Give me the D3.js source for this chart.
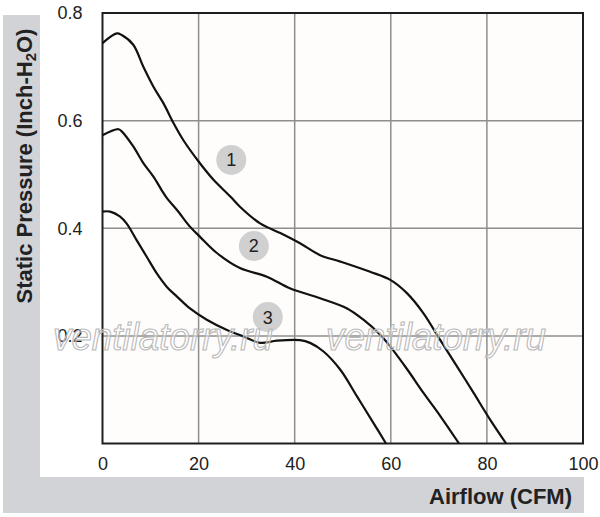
<!DOCTYPE html>
<html>
<head>
<meta charset="utf-8">
<script src="https://cdn.jsdelivr.net/npm/d3@7"></script>
<style>
  body { margin: 0; background: #ffffff; }
  svg { display: block; font-family: Arial, "Liberation Sans", sans-serif; }
</style>
</head>
<body>
<svg id="chart" width="600" height="517"></svg>
<script>
// airflow (CFM) / static pressure (inch H2O)
var curve1_x = [0, 3, 4, 6.4, 8.5, 10.6, 12.7, 14.8, 16.8, 20, 23.1, 26.6, 28.6, 32.8, 37, 41.1, 45.3, 49.5, 55.7, 59.9, 63.4, 66.8, 70.3, 73.8, 77.3, 80.7, 84];
var curve1_y = [0.744, 0.762, 0.759, 0.741, 0.700, 0.663, 0.632, 0.595, 0.564, 0.524, 0.490, 0.459, 0.440, 0.409, 0.391, 0.372, 0.350, 0.338, 0.319, 0.304, 0.279, 0.242, 0.192, 0.143, 0.093, 0.044, 0];

var curve2_x = [0, 3.3, 4, 6.4, 8.5, 10.6, 12.3, 13.4, 15.5, 18.2, 20.3, 23.8, 28.6, 34.2, 39.1, 45.3, 50.9, 54.3, 57.8, 59.9, 63.4, 66.8, 70.3, 74.2];
var curve2_y = [0.573, 0.584, 0.580, 0.552, 0.521, 0.496, 0.471, 0.456, 0.434, 0.403, 0.384, 0.354, 0.326, 0.310, 0.288, 0.270, 0.251, 0.230, 0.202, 0.180, 0.138, 0.094, 0.051, 0];

var curve3_x = [0, 1.6, 3.6, 5, 7.1, 9.2, 11.3, 13.4, 15.5, 18.2, 21.7, 25.9, 29.3, 32.8, 36.3, 41.1, 43.2, 46, 49.5, 53, 56.4, 59];
var curve3_y = [0.431, 0.431, 0.422, 0.409, 0.378, 0.347, 0.316, 0.291, 0.273, 0.251, 0.230, 0.211, 0.199, 0.187, 0.191, 0.192, 0.187, 0.171, 0.137, 0.087, 0.038, 0];

var x_ticks = [0, 20, 40, 60, 80, 100];
var y_ticks = [0.2, 0.4, 0.6, 0.8];
var tag_labels = ['1', '2', '3'];
var tag_pos = [[26.8, 0.527], [31.5, 0.367], [34.4, 0.235]];

var svg = d3.select('#chart');
var margin = {top: 13, left: 102.5, right: 17, bottom: 73.5};
var width = 600 - margin.left - margin.right;
var height = 517 - margin.top - margin.bottom;

var x = d3.scaleLinear().domain([0, 100]).range([0, width]);
var y = d3.scaleLinear().domain([0, 0.8]).range([height, 0]);

// grey L-shaped title bands
svg.append('rect')
    .attr('x', 3).attr('y', 15).attr('width', 37).attr('height', 498)
    .attr('fill', '#d1d3d6');
svg.append('rect')
    .attr('x', 3).attr('y', 477).attr('width', 581).attr('height', 36)
    .attr('fill', '#d1d3d6');

var g = svg.append('g')
    .attr('transform', 'translate(' + margin.left + ',' + margin.top + ')');

g.append('rect')
    .attr('width', width).attr('height', height)
    .attr('fill', '#fefdfc');

// grid
g.append('g')
    .attr('class', 'grid')
    .selectAll('line.v')
    .data(x_ticks.slice(1, -1))
  .enter().append('line')
    .attr('x1', x).attr('x2', x)
    .attr('y1', 0).attr('y2', height)
    .attr('stroke', '#8e8e8e').attr('stroke-width', 1.5);
g.append('g')
    .attr('class', 'grid')
    .selectAll('line.h')
    .data(y_ticks.slice(0, -1))
  .enter().append('line')
    .attr('x1', 0).attr('x2', width)
    .attr('y1', y).attr('y2', y)
    .attr('stroke', '#8e8e8e').attr('stroke-width', 1.5);

// watermark (outlined, stretched)
[163, 436].forEach(function (cx) {
    svg.append('text')
        .attr('x', cx - 110)
        .attr('y', 350)
        .attr('font-size', 38)
        .attr('font-style', 'italic')
        .attr('textLength', 220)
        .attr('lengthAdjust', 'spacingAndGlyphs')
        .attr('fill', 'rgba(255,255,255,0.4)')
        .attr('stroke', '#b8b8b8')
        .attr('stroke-width', 1.1)
        .text('ventilatorry.ru');
});

// frame
g.append('rect')
    .attr('width', width).attr('height', height)
    .attr('fill', 'none')
    .attr('stroke', '#1e1e1e').attr('stroke-width', 2);

// axes (labels only)
var xAxis = d3.axisBottom(x).tickValues(x_ticks).tickSize(0).tickPadding(14)
    .tickFormat(d3.format('d'));
var yAxis = d3.axisLeft(y).tickValues(y_ticks).tickSize(0).tickPadding(20)
    .tickFormat(d3.format('.1f'));

g.append('g')
    .attr('transform', 'translate(0,' + height + ')')
    .call(xAxis)
    .call(function (a) { a.select('.domain').remove(); });
g.append('g')
    .call(yAxis)
    .call(function (a) { a.select('.domain').remove(); });

g.selectAll('.tick text')
    .attr('font-size', 18)
    .attr('font-family', 'Arial, "Liberation Sans", sans-serif')
    .attr('fill', '#222');

// curves
var line = d3.line()
    .x(function (d) { return x(d[0]); })
    .y(function (d) { return y(d[1]); })
    .curve(d3.curveCatmullRom.alpha(0.5));

[[curve1_x, curve1_y], [curve2_x, curve2_y], [curve3_x, curve3_y]].forEach(function (c) {
    g.append('path')
        .datum(d3.zip(c[0], c[1]))
        .attr('fill', 'none')
        .attr('stroke', '#111')
        .attr('stroke-width', 2.2)
        .attr('d', line);
});

// numbered tags
var tags = g.selectAll('.tag')
    .data(tag_labels)
  .enter().append('g')
    .attr('class', 'tag')
    .attr('transform', function (d, i) {
        return 'translate(' + x(tag_pos[i][0]) + ',' + y(tag_pos[i][1]) + ')';
    });
tags.append('circle')
    .attr('r', 15)
    .attr('fill', '#d0d0d0');
tags.append('text')
    .attr('text-anchor', 'middle')
    .attr('dy', '0.36em')
    .attr('font-size', 18)
    .attr('fill', '#222')
    .text(function (d) { return d; });

// axis titles
svg.append('text')
    .attr('x', 572)
    .attr('y', 504)
    .attr('text-anchor', 'end')
    .attr('font-size', 22)
    .attr('font-weight', 'bold')
    .attr('fill', '#222')
    .text('Airflow (CFM)');

var yt = svg.append('text')
    .attr('transform', 'translate(32,166) rotate(-90)')
    .attr('text-anchor', 'middle')
    .attr('font-size', 22)
    .attr('font-weight', 'bold')
    .attr('fill', '#222');
yt.append('tspan').text('Static Pressure (Inch-H');
yt.append('tspan').attr('font-size', 15).attr('dy', 4).text('2');
yt.append('tspan').attr('dy', -4).text('O)');
</script>
</body>
</html>
